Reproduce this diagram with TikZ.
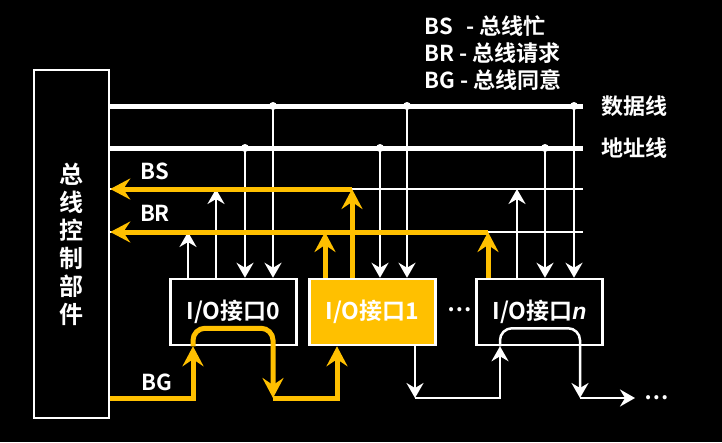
\documentclass[tikz,border=0pt]{standalone}
\usepackage{fontspec}
\setmainfont{Noto Sans CJK SC}[BoldFont={Noto Sans CJK SC Bold}]
\newfontfamily\nfont{Liberation Sans}
\usetikzlibrary{arrows.meta}
\definecolor{busyellow}{HTML}{FFC000}

\begin{document}
\begin{tikzpicture}[x=1pt,y=-1pt,
  txt/.style={text=white,font=\bfseries\fontsize{22}{26}\selectfont},
  wline/.style={white,line width=2.5pt},
  yline/.style={busyellow,line width=5pt},
  warrow/.style={wline,-{Stealth[length=15pt,width=17pt,inset=5pt]}},
  yarrow/.style={yline,-{Stealth[length=20pt,width=21pt,inset=7pt]}},
  iobox/.style={draw=white,line width=2.5pt,minimum width=126pt,minimum height=66pt,txt,
    font=\bfseries\fontsize{23}{26}\selectfont}]
\fill[black] (0,0) rectangle (722,442);
\node[draw=white,line width=2.5pt,minimum width=75pt,minimum height=348pt,align=center,
  text=white,font=\bfseries\fontsize{24}{28}\selectfont] (ctrl) at (71.5,244) {总\\线\\控\\制\\部\\件};
\node[iobox] (io0) at (233.5,312) {I/O接口0};
\node[iobox,fill=busyellow] (io1) at (372.5,312) {I/O接口1};
\node[iobox] (ion) at (539.5,312) {I/O接口{\nfont\itshape n}};
\node[txt] (dots1) at (460,310) {…};
\coordinate (dend) at (583,106);
\coordinate (aend) at (583,148);
\coordinate (send) at (583,189);
\coordinate (rend) at (583,232);
\draw[white,line width=5pt] (ctrl.east |- dend) -- (dend);
\draw[white,line width=5pt] (ctrl.east |- aend) -- (aend);
\draw[wline] (ctrl.east |- send) -- (send);
\draw[wline] (ctrl.east |- rend) -- (rend);
\node[txt,anchor=west] (dlab) at ([xshift=15pt]dend) {数据线};
\node[txt,anchor=west] (alab) at ([xshift=15pt]aend) {地址线};
\node[txt] (slab) at (155,171) {BS};
\node[txt] (rlab) at (155,213) {BR};
\node[txt] (glab) at (157,382) {BG};
\node[txt,anchor=west] (leg1) at (421,26) {BS\hspace{9pt} - 总线忙};
\node[txt,anchor=west] (leg2) at (421,53) {BR - 总线请求};
\node[txt,anchor=west] (leg3) at (421,80) {BG - 总线同意};
\foreach \b/\r/\s/\a/\d in {io0/188/216/245/273,io1/325/352/380/407,ion/488/517/545/574}
{
  \coordinate (\b-r) at (\r,232);
  \coordinate (\b-s) at (\s,189);
  \coordinate (\b-a) at (\a,148);
  \coordinate (\b-d) at (\d,106);
  \fill[white] (\b-a) circle (4pt) (\b-d) circle (4pt);
  \draw[warrow] (\b-a) -- (\b-a |- \b.north);
  \draw[warrow] (\b-d) -- (\b-d |- \b.north);
}
\draw[warrow] (io0-r |- io0.north) -- (io0-r);
\draw[warrow] (io0-s |- io0.north) -- (io0-s);
\draw[warrow] (ion-s |- ion.north) -- (ion-s);
\draw[yarrow] (io1-r |- io1.north) -- (io1-r);
\draw[yarrow] (io1-s |- io1.north) -- (io1-s);
\draw[yarrow] (ion-r |- ion.north) -- (ion-r);
\draw[yarrow] (io1-s) -- (ctrl.east |- io1-s);
\draw[yarrow] (ion-r) -- (ctrl.east |- ion-r);
\coordinate (c0) at (193,398);
\coordinate (c1) at (273,398);
\coordinate (c2) at (337,398);
\coordinate (c3) at (415,398);
\coordinate (c4) at (500,398);
\coordinate (c5) at (580,398);
\coordinate (c6) at (635,398);
\draw[yarrow] (ctrl.east |- c0) -- (c0) -- (c0 |- io0.south);
\draw[yarrow,rounded corners=12pt] (c0 |- io0.south) -- ++(0,-18) -- ++(80,0) -- (c1);
\draw[yarrow] (c1) -- (c2) -- (c2 |- io1.south);
\draw[warrow] (c3 |- io1.south) -- (c3);
\draw[warrow] (c3) -- (c4) -- (c4 |- ion.south);
\draw[warrow,rounded corners=12pt] (c4 |- ion.south) -- ++(0,-18) -- ++(80,0) -- (c5);
\draw[warrow] (c5) -- (c6);
\node[txt] (dots2) at (657,398) {…};
\end{tikzpicture}
\end{document}
